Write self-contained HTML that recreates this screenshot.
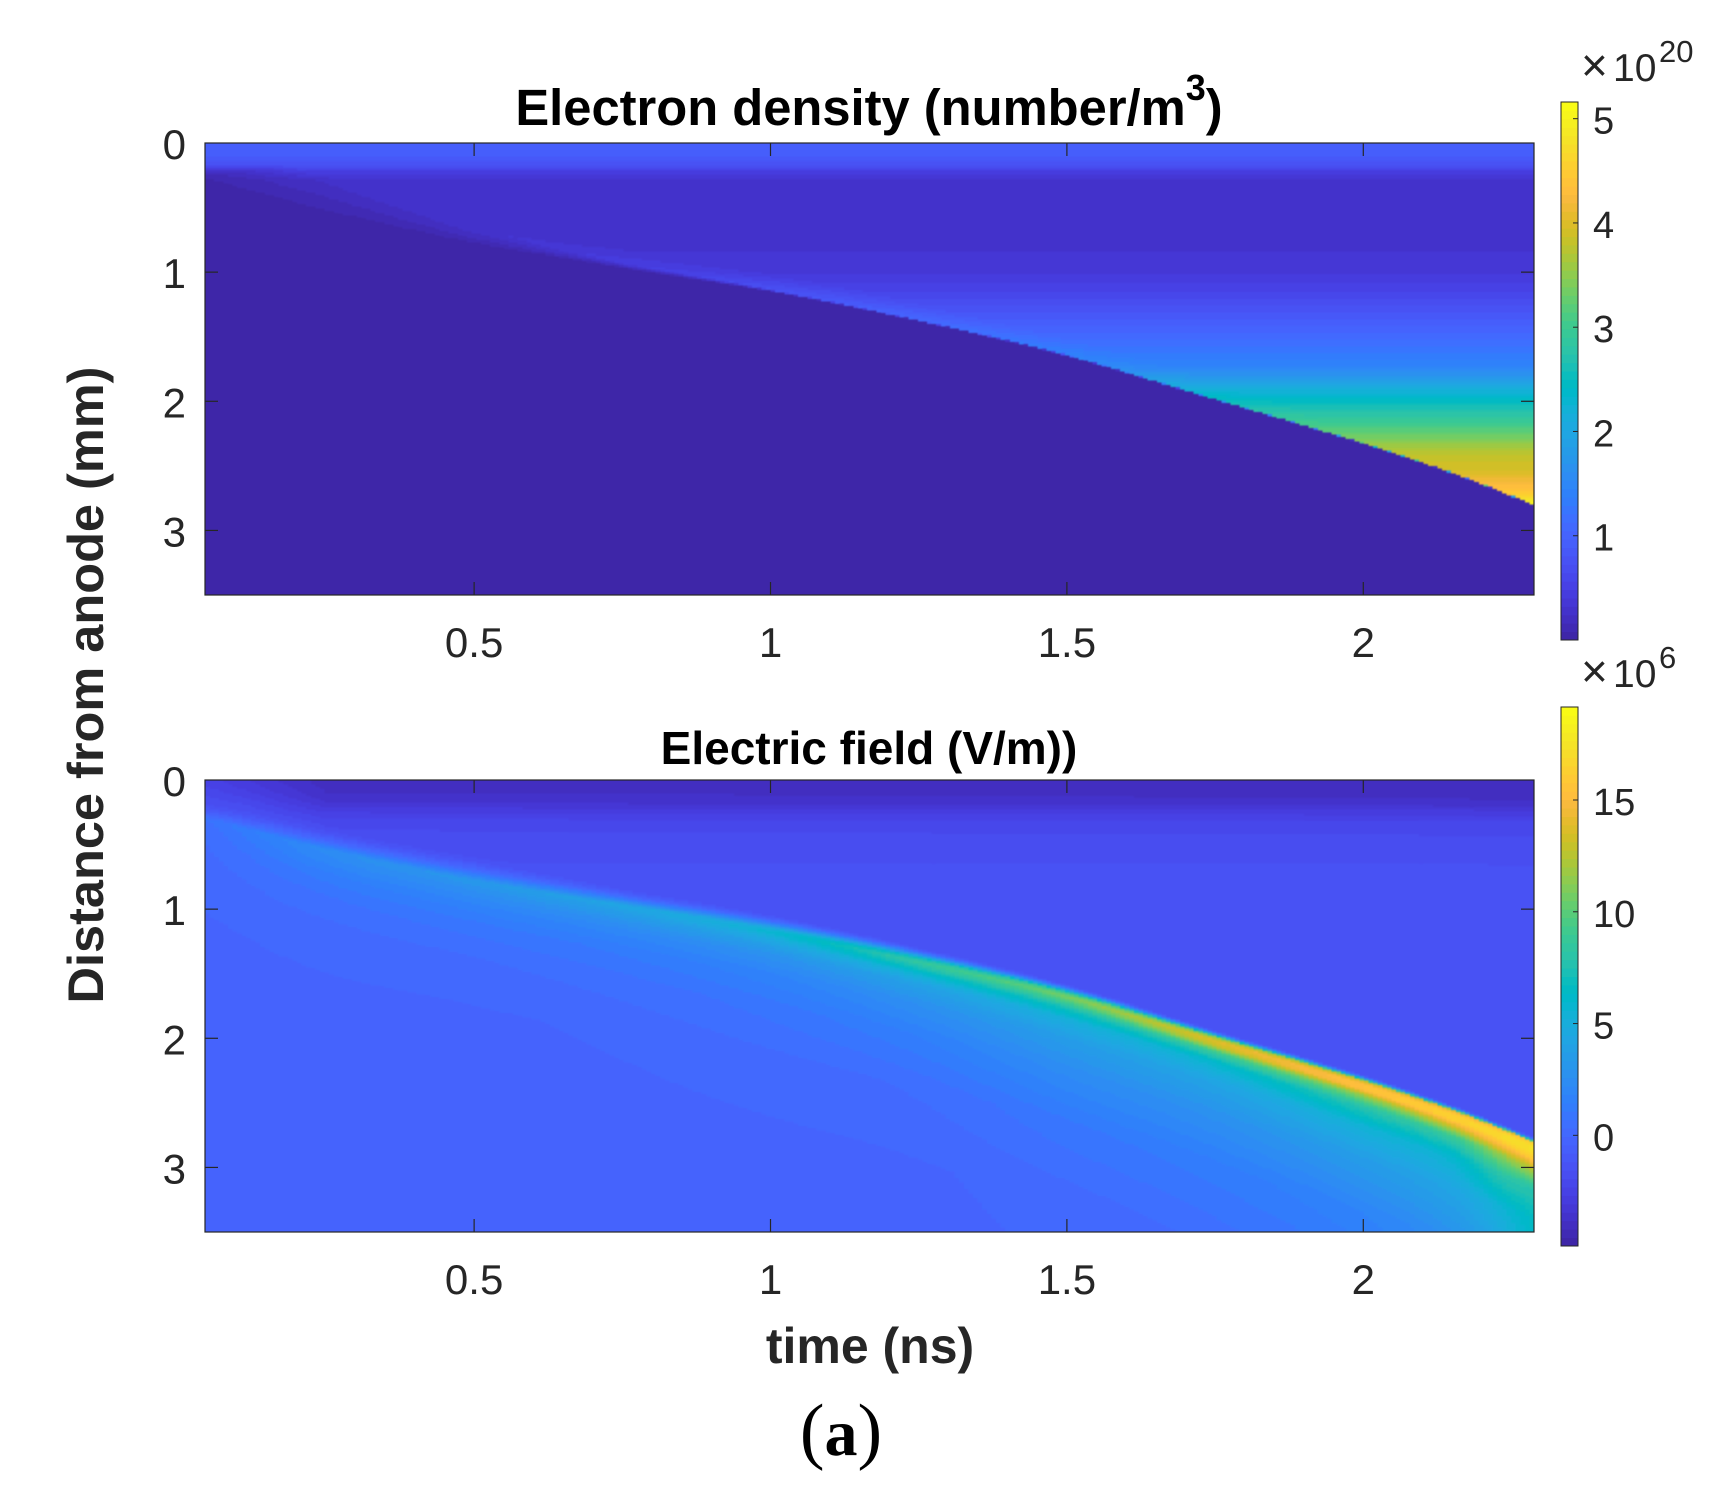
<!DOCTYPE html>
<html lang="en">
<head>
<meta charset="utf-8">
<title>Electron density and electric field</title>
<style>
html,body{margin:0;padding:0;background:#fff;width:1723px;height:1497px;overflow:hidden}
svg{display:block}
text{font-family:"Liberation Sans",Arial,sans-serif;fill:#262626}
.bold{font-weight:bold}
</style>
</head>
<body>
<svg id="figure" xmlns="http://www.w3.org/2000/svg" width="1723" height="1497" viewBox="0 0 1723 1497">
  <rect x="0" y="0" width="1723" height="1497" fill="#ffffff"/>
  <defs>
    <clipPath id="clip-density"><rect x="205" y="143" width="1329" height="452"/></clipPath>
    <clipPath id="clip-field"><rect x="205" y="780" width="1329" height="452"/></clipPath>
  </defs>
  <g id="density-panel"></g>
  <g id="field-panel"></g>
  <g id="density-colorbar"></g>
  <g id="field-colorbar"></g>

  <text class="bold" x="869" y="125" text-anchor="middle" font-size="50.7" style="fill:#000">Electron density (number/m<tspan dy="-25" font-size="36">3</tspan><tspan dy="25">)</tspan></text>
  <text class="bold" x="869" y="764" text-anchor="middle" font-size="46" style="fill:#000">Electric field (V/m))</text>
  <text class="bold" transform="translate(103,685) rotate(-90)" text-anchor="middle" font-size="50.5">Distance from anode (mm)</text>
  <text class="bold" x="870" y="1363" text-anchor="middle" font-size="50">time (ns)</text>

  <text y="81" font-size="39"><tspan x="1581" font-size="46">×</tspan><tspan x="1613">10</tspan><tspan x="1659" dy="-19" font-size="31">20</tspan></text>
  <text y="687" font-size="39"><tspan x="1581" font-size="46">×</tspan><tspan x="1613">10</tspan><tspan x="1659" dy="-19" font-size="31">6</tspan></text>

  <text x="841" y="1455" text-anchor="middle" font-size="66" style="font-family:'Liberation Serif',serif;fill:#000"><tspan font-size="74">(</tspan><tspan font-weight="bold">a</tspan><tspan font-size="74">)</tspan></text>
</svg>

<script>
/* ---------- shared axis labels ---------- */
const xTickValues = [0.5, 1, 1.5, 2];
const xTickLabels = ["0.5", "1", "1.5", "2"];
const yTickValues = [0, 1, 2, 3];
const yTickLabels = ["0", "1", "2", "3"];
const densityBarTicks = [1, 2, 3, 4, 5];
const fieldBarTicks = [0, 5, 10, 15];

/* ---------- values ---------- */
const timesNs      = [0.046, 0.25, 0.5, 0.75, 1, 1.25, 1.5, 1.75, 2, 2.15, 2.23, 2.288];
const frontDepthMm = [0.28, 0.52, 0.76, 0.95, 1.13, 1.36, 1.63, 1.97, 2.31, 2.54, 2.68, 2.79];

/* electron density (x 1e20) above the front, by depth */
const densityDepthsMm = [0, 0.1, 0.155, 0.2, 0.27, 0.75, 0.98, 1.22, 1.47, 1.72, 1.95, 2.15, 2.38, 2.53, 2.65, 2.73, 2.79];
const densityProfile  = [0.9, 0.85, 0.7, 0.45, 0.25, 0.26, 0.34, 0.65, 1.05, 1.45, 2.38, 3.0, 3.77, 4.0, 4.35, 4.75, 5.16];
const densityFrontBoost = [0, 0.03, 0.1, 0.16, 0.22, 0.2, 0.1, 0.05, 0, 0, 0, 0];
const densityRampMm = [0.3, 0.28, 0.12, 0.04, 0.01, 0.005, 0.005, 0.005, 0.005, 0.005, 0.005, 0.005];
const densityBelowFront = 0.02;

/* electric field (x 1e6 V/m) at depth offsets below the front, one row per time */
const fieldOffsetsMm = [0, 0.03, 0.07, 0.12, 0.2, 0.35, 0.6, 1, 1.6, 2.4, 3.4];
const fieldBelowFront = [
  [0.6, 0.5, 0.4, 0.3, 0.2, 0.1, -0.1, -0.3, -0.35, -0.35, -0.35],
  [2.3, 2.2, 2.0, 1.7, 1.2, 0.6, 0.1, -0.2, -0.35, -0.35, -0.35],
  [3.2, 3.0, 2.6, 2.2, 1.6, 0.8, 0.2, -0.2, -0.35, -0.35, -0.35],
  [4.3, 4.0, 3.5, 2.8, 2.0, 1.1, 0.4, -0.1, -0.3, -0.35, -0.35],
  [5.0, 5.8, 5.0, 4.0, 2.8, 1.7, 0.8, 0.1, -0.25, -0.35, -0.35],
  [7.0, 8.5, 7.5, 5.8, 4.0, 2.6, 1.4, 0.3, -0.2, -0.3, -0.3],
  [9.0, 11, 9.5, 7.2, 5.2, 3.6, 2.3, 0.9, 0.0, -0.2, -0.2],
  [11, 14, 13, 9.0, 6.0, 4.2, 2.7, 1.2, 0.3, 0.0, 0.0],
  [13, 15.5, 15.5, 11.5, 8.0, 5.5, 3.6, 1.8, 0.8, 0.5, 0.5],
  [14, 16.5, 16.5, 13.5, 9.0, 6.0, 4.3, 2.6, 2.0, 2.0, 2.0],
  [15, 17, 17, 15.5, 11.5, 8.0, 5.5, 3.8, 3.4, 3.4, 3.4],
  [16, 17.5, 17.5, 16.5, 13, 8.0, 6.5, 6.0, 6.0, 6.0, 6.0]
];
const fieldRiseWidthMm = [0.12, 0.2, 0.2, 0.15, 0.12, 0.09, 0.07, 0.05, 0.045, 0.04, 0.04, 0.04];

/* electric field above the front, by time and depth */
const fieldTopTimesNs  = [0.046, 0.12, 0.25, 2.288];
const fieldTopDepthsMm = [0, 0.08, 0.16, 0.24, 0.32, 0.45, 0.7, 1.5, 3.5];
const fieldTopAtStart  = [-2.6, -2.2, -1.8, -1.2, -0.4, 0, 0, 0, 0];
const fieldTopAtEarly  = [-3.2, -2.8, -2.2, -1.7, -1.2, -0.8, -0.8, -0.8, -0.8];
const fieldTopAtRise   = [-4.2, -4.0, -3.6, -2.8, -2.2, -1.9, -1.6, -1.6, -1.6];
const fieldTopAtEnd    = [-4.3, -4.2, -3.9, -3.0, -2.3, -2.0, -1.6, -1.6, -1.6];

/* parula colormap */
const parula = [
[.2422,.1504,.6603],[.2504,.1650,.7076],[.2578,.1818,.7511],[.2647,.1978,.7952],[.2706,.2147,.8364],[.2751,.2342,.8710],[.2783,.2559,.8991],[.2803,.2782,.9221],
[.2813,.3006,.9414],[.2810,.3228,.9579],[.2795,.3447,.9717],[.2760,.3667,.9829],[.2699,.3892,.9906],[.2602,.4123,.9952],[.2440,.4358,.9988],[.2206,.4603,.9973],
[.1963,.4847,.9892],[.1834,.5074,.9798],[.1786,.5289,.9682],[.1764,.5499,.9520],[.1687,.5703,.9359],[.1540,.5902,.9218],[.1460,.6091,.9079],[.1380,.6276,.8973],
[.1248,.6459,.8883],[.1113,.6635,.8763],[.0952,.6798,.8598],[.0689,.6948,.8394],[.0297,.7082,.8163],[.0036,.7203,.7917],[.0067,.7312,.7660],[.0433,.7411,.7394],
[.0964,.7500,.7120],[.1408,.7584,.6842],[.1717,.7670,.6554],[.1938,.7758,.6251],[.2161,.7843,.5923],[.2470,.7918,.5567],[.2906,.7973,.5188],[.3406,.8008,.4789],
[.3909,.8029,.4354],[.4456,.8024,.3909],[.5044,.7993,.3480],[.5616,.7942,.3045],[.6174,.7876,.2612],[.6720,.7793,.2227],[.7242,.7698,.1910],[.7738,.7598,.1646],
[.8203,.7498,.1535],[.8634,.7406,.1596],[.9035,.7330,.1774],[.9393,.7288,.2100],[.9728,.7298,.2394],[.9956,.7434,.2371],[.9970,.7659,.2199],[.9952,.7893,.2028],
[.9892,.8136,.1885],[.9786,.8386,.1766],[.9676,.8639,.1643],[.9610,.8890,.1537],[.9597,.9135,.1423],[.9628,.9373,.1265],[.9691,.9606,.1064],[.9769,.9839,.0805]
];

/* ---------- helpers ---------- */
const SVGNS = "http://www.w3.org/2000/svg";
const INK = "#262626";
const T_MIN = 0.046, T_MAX = 2.288, D_MAX = 3.5;
const X_LEFT = 205, X_RIGHT = 1534;
const COLS = 289, ROWS = 200;

function node(tag, parent) {
  const el = document.createElementNS(SVGNS, tag);
  parent.appendChild(el);
  return el;
}
function attrs(el, o) { for (const k in o) el.setAttribute(k, o[k]); return el; }
function interp(xs, ys, x) {
  if (x <= xs[0]) return ys[0];
  const n = xs.length - 1;
  if (x >= xs[n]) return ys[n];
  let i = 0;
  while (x > xs[i + 1]) i++;
  return ys[i] + (ys[i + 1] - ys[i]) * (x - xs[i]) / (xs[i + 1] - xs[i]);
}
/* smooth curve through the read values, so the front has no kinks at the read times */
function smooth(xs, ys, x) {
  const n = xs.length - 1;
  if (x <= xs[0]) return ys[0];
  if (x >= xs[n]) return ys[n];
  let i = 0;
  while (x > xs[i + 1]) i++;
  const h = xs[i + 1] - xs[i];
  const m0 = i > 0 ? (ys[i + 1] - ys[i - 1]) / (xs[i + 1] - xs[i - 1]) : (ys[1] - ys[0]) / h;
  const m1 = i + 1 < n ? (ys[i + 2] - ys[i]) / (xs[i + 2] - xs[i]) : (ys[n] - ys[n - 1]) / h;
  const s = (x - xs[i]) / h, s2 = s * s, s3 = s2 * s;
  return (2 * s3 - 3 * s2 + 1) * ys[i] + (s3 - 2 * s2 + s) * h * m0 + (3 * s2 - 2 * s3) * ys[i + 1] + (s3 - s2) * h * m1;
}
function colorOf(i) {
  const c = parula[i];
  return "rgb(" + Math.round(c[0] * 255) + "," + Math.round(c[1] * 255) + "," + Math.round(c[2] * 255) + ")";
}
function colorIndex(v, min, max) {
  return Math.max(0, Math.min(parula.length - 1, Math.round((v - min) / (max - min) * (parula.length - 1))));
}
const xScale = t => X_LEFT + (t - T_MIN) / (T_MAX - T_MIN) * (X_RIGHT - X_LEFT);

/* ---------- field values ---------- */
function densityAt(t, d) {
  let v = interp(densityDepthsMm, densityProfile, d);
  const front = smooth(timesNs, frontDepthMm, t);
  if (d > front) return densityBelowFront;
  const off = front - d;
  if (off < 0.14) v += interp(timesNs, densityFrontBoost, t) * (1 - off / 0.14);
  const ramp = interp(timesNs, densityRampMm, t);
  const fade = Math.min(1, off / ramp);
  const topKeep = Math.max(0, Math.min(1, (0.27 - d) / 0.115));
  return densityBelowFront + (v - densityBelowFront) * Math.max(fade, topKeep);
}
function fieldTop(t, d) {
  const rows = [fieldTopAtStart, fieldTopAtEarly, fieldTopAtRise, fieldTopAtEnd];
  const atDepth = rows.map(r => interp(fieldTopDepthsMm, r, d));
  return interp(fieldTopTimesNs, atDepth, t);
}
function fieldBelow(t, off) {
  const atOffset = fieldBelowFront.map(r => interp(fieldOffsetsMm, r, off));
  return smooth(timesNs, atOffset, t);
}
function fieldAt(t, d) {
  const front = smooth(timesNs, frontDepthMm, t);
  const off = d - front;
  if (off >= 0) return fieldBelow(t, off);
  const top = fieldTop(t, d);
  const w = interp(timesNs, fieldRiseWidthMm, t);
  if (off <= -w) return top;
  const f = (off + w) / w;
  return top + (fieldBelow(t, 0) - top) * f * f;
}

/* ---------- panel drawing ---------- */
function drawPanel(rootId, clipId, yTop, yBottom, valueAt, vMin, vMax, prefix) {
  const root = document.getElementById(rootId);
  const yScale = d => yTop + d / D_MAX * (yBottom - yTop);
  const cellW = (X_RIGHT - X_LEFT) / COLS, cellH = (yBottom - yTop) / ROWS;

  const clip = node("g", root);
  clip.setAttribute("clip-path", "url(#" + clipId + ")");
  
  
  const heat = node("g", clip);
  heat.setAttribute("shape-rendering", "crispEdges");
  heat.setAttribute("style", "filter:blur(0.8px)");
  
  

  let prev = new Map();
  for (let c = -1; c <= COLS; c++) {
    const t = T_MIN + (c + 0.5) / COLS * (T_MAX - T_MIN);
    const cur = new Map();
    let start = -1, idx = colorIndex(valueAt(t, 0), vMin, vMax);
    for (let r = 0; r <= ROWS + 1; r++) {
      const d = (r - 0.5) / ROWS * D_MAX;
      const next = r <= ROWS ? colorIndex(valueAt(t, Math.max(0, d)), vMin, vMax) : -99;
      if (next !== idx) {
        const key = start + ":" + r + ":" + idx;
        const px = xScale(t) - cellW / 2;
        let rect = prev.get(key);
        if (rect) {
          rect.setAttribute("width", (px + cellW - parseFloat(rect.getAttribute("x"))).toFixed(2));
        } else {
          rect = node("rect", heat);
          
          
          attrs(rect, {
            x: px.toFixed(2),
            y: (yTop + start * cellH).toFixed(2),
            width: (cellW + 0.3).toFixed(2),
            height: ((r - start) * cellH + 0.3).toFixed(2),
            fill: colorOf(idx)
          });
        }
        cur.set(key, rect);
        start = r;
        idx = next;
      }
    }
    prev = cur;
  }

  const frame = node("rect", root);
  
  
  attrs(frame, { x: X_LEFT, y: yTop, width: X_RIGHT - X_LEFT, height: yBottom - yTop, fill: "none", stroke: INK, "stroke-width": 1.2 });

  xTickValues.forEach((v, i) => {
    const x = xScale(v);
    [[yTop, yTop + 13], [yBottom, yBottom - 13]].forEach(p => {
      const tick = node("line", root);
      
      
      attrs(tick, { x1: x, x2: x, y1: p[0], y2: p[1], stroke: INK, "stroke-width": 1.2 });
    });
    const label = node("text", root);
    
    
    attrs(label, { x: x, y: yBottom + 62, "text-anchor": "middle", "font-size": 42 });
    label.textContent = xTickLabels[i];
  });

  yTickValues.forEach((v, i) => {
    const y = yScale(v);
    if (v !== 0) {
      [[X_LEFT, X_LEFT + 13], [X_RIGHT, X_RIGHT - 13]].forEach(p => {
        const tick = node("line", root);
        
        
        attrs(tick, { x1: p[0], x2: p[1], y1: y, y2: y, stroke: INK, "stroke-width": 1.2 });
      });
    }
    const label = node("text", root);
    
    
    attrs(label, { x: 186, y: y + 16, "text-anchor": "end", "font-size": 42 });
    label.textContent = yTickLabels[i];
  });
}

function drawColorbar(rootId, yTop, yBottom, vMin, vMax, ticks, prefix) {
  const root = document.getElementById(rootId);
  const xL = 1561, xR = 1578;
  const yScale = v => yBottom - (v - vMin) / (vMax - vMin) * (yBottom - yTop);
  const n = parula.length;
  parula.forEach((c, i) => {
    const seg = node("rect", root);
    
    
    const h = (yBottom - yTop) / n;
    attrs(seg, { x: xL, y: (yBottom - (i + 1) * h).toFixed(2), width: xR - xL, height: (h + 0.5).toFixed(2), fill: colorOf(i) });
  });
  const frame = node("rect", root);
  
  
  attrs(frame, { x: xL, y: yTop, width: xR - xL, height: yBottom - yTop, fill: "none", stroke: INK, "stroke-width": 1 });
  ticks.forEach(v => {
    const y = yScale(v);
    const tick = node("line", root);
    
    
    attrs(tick, { x1: xR - 5, x2: xR, y1: y, y2: y, stroke: INK, "stroke-width": 1 });
    const label = node("text", root);
    
    
    attrs(label, { x: 1593, y: y + 15, "font-size": 38 });
    label.textContent = String(v);
  });
}

drawPanel("density-panel", "clip-density", 143, 595, densityAt, 0, 5.16, "density");
drawPanel("field-panel", "clip-field", 780, 1232, fieldAt, -4.95, 19.16, "field");
drawColorbar("density-colorbar", 102, 640, 0, 5.16, densityBarTicks, "density");
drawColorbar("field-colorbar", 707, 1246, -4.95, 19.16, fieldBarTicks, "field");
</script>
</body>
</html>
